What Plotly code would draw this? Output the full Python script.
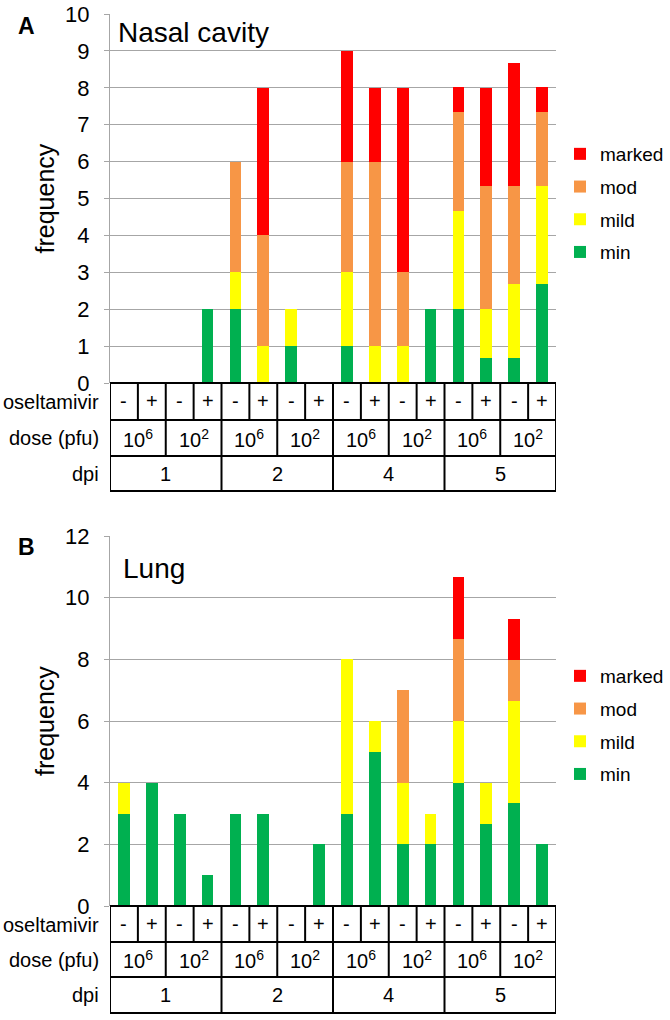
import plotly.graph_objects as go

# ---------------- data ----------------
oseltamivir = ["-", "+", "-", "+", "-", "+", "-", "+", "-", "+", "-", "+", "-", "+", "-", "+"]
dose_labels = ["10<sup>6</sup>", "10<sup>2</sup>", "10<sup>6</sup>", "10<sup>2</sup>",
               "10<sup>6</sup>", "10<sup>2</sup>", "10<sup>6</sup>", "10<sup>2</sup>"]
dpi_labels = ["1", "2", "4", "5"]
severity = ["min", "mild", "mod", "marked"]
colors = {"min": "#00B050", "mild": "#FFFF00", "mod": "#F79646", "marked": "#FF0000"}

nasal_min    = [0, 0, 0, 2, 2, 0, 1, 0, 1, 0, 0, 2, 2,    0.67, 0.67, 2.67]
nasal_mild   = [0, 0, 0, 0, 1, 1, 1, 0, 2, 1, 1, 0, 2.67, 1.33, 2,    2.67]
nasal_mod    = [0, 0, 0, 0, 3, 3, 0, 0, 3, 5, 2, 0, 2.67, 3.33, 2.67, 2]
nasal_marked = [0, 0, 0, 0, 0, 4, 0, 0, 3, 2, 5, 0, 0.67, 2.67, 3.33, 0.67]

lung_min    = [3, 4, 3, 1, 3, 3, 0, 2, 3, 5, 2, 2, 4,    2.67, 3.33, 2]
lung_mild   = [1, 0, 0, 0, 0, 0, 0, 0, 5, 1, 2, 1, 2,    1.33, 3.33, 0]
lung_mod    = [0, 0, 0, 0, 0, 0, 0, 0, 0, 0, 3, 0, 2.67, 0,    1.33, 0]
lung_marked = [0, 0, 0, 0, 0, 0, 0, 0, 0, 0, 0, 0, 2,    0,    1.33, 0]

panels = [
    {"letter": "A", "title": "Nasal cavity", "ymax": 10, "dtick": 1,
     "values": {"min": nasal_min, "mild": nasal_mild, "mod": nasal_mod, "marked": nasal_marked}},
    {"letter": "B", "title": "Lung", "ymax": 12, "dtick": 2,
     "values": {"min": lung_min, "mild": lung_mild, "mod": lung_mod, "marked": lung_marked}},
]

# ---------------- layout geometry (pixels) ----------------
W, H = 670, 1020
FONT = "Arial, Liberation Sans, sans-serif"
def px(x): return x / W
def py(y): return 1 - y / H

plot_x0, plot_x1 = 110, 556
geo = [
    {"top": 14, "bottom": 383, "rows": [383, 420, 456, 491], "legend_top": 135,
     "letter_y": 26, "title_y": 33},
    {"top": 536, "bottom": 906, "rows": [906, 942, 977, 1013], "legend_top": 657,
     "letter_y": 547, "title_y": 568},
]

ncol = len(oseltamivir)
xs = list(range(ncol))

fig = go.Figure()
shapes = []
annotations = []

for i, (p, g) in enumerate(zip(panels, geo)):
    n = "" if i == 0 else str(i + 1)
    xa, ya = "x" + n, "y" + n
    leg = "legend" if i == 0 else "legend2"
    for s in severity:
        fig.add_trace(go.Bar(
            x=xs, y=p["values"][s], name=s, marker=dict(color=colors[s], line=dict(width=0)),
            xaxis=xa, yaxis=ya, legend=leg, legendgroup=s + n,
            legendrank={"marked": 1, "mod": 2, "mild": 3, "min": 4}[s],
        ))
    fig.layout["xaxis" + n] = dict(
        domain=[px(plot_x0), px(plot_x1)], range=[-0.5, ncol - 0.5], anchor=ya,
        showticklabels=False, showgrid=False, zeroline=False, showline=False, ticks="",
        fixedrange=True, automargin=False)
    fig.layout["yaxis" + n] = dict(
        domain=[py(g["bottom"]), py(g["top"])], range=[0, p["ymax"]], dtick=p["dtick"], anchor=xa,
        showgrid=True, gridcolor="#A6A6A6", gridwidth=1.3, zeroline=False,
        showline=True, linecolor="#A6A6A6", linewidth=1.3,
        ticks="outside", ticklen=5, tickcolor="#A6A6A6", tickwidth=1.3,
        ticklabelstandoff=10, automargin=False, fixedrange=True,
        tickfont=dict(family=FONT, size=22, color="black"))
    fig.layout[leg] = dict(
        x=px(560), y=py(g["legend_top"]), xanchor="left", yanchor="top",
        font=dict(family=FONT, size=19, color="black"), bgcolor="rgba(0,0,0,0)",
        tracegroupgap=5, itemwidth=30)

    # panel letter, title, y title
    annotations.append(dict(text="<b>%s</b>" % p["letter"], x=px(26), y=py(g["letter_y"]),
                            xref="paper", yref="paper", xanchor="center", yanchor="middle",
                            showarrow=False, font=dict(family=FONT, size=23, color="black")))
    annotations.append(dict(text=p["title"], x=px(116 if i == 0 else 121), y=py(g["title_y"]),
                            xref="paper", yref="paper", xanchor="left", yanchor="middle",
                            showarrow=False, font=dict(family=FONT, size=28, color="black")))
    annotations.append(dict(text="frequency", x=px(45), y=py((g["top"] + g["bottom"]) / 2),
                            xref="paper", yref="paper", xanchor="center", yanchor="middle",
                            textangle=-90, showarrow=False,
                            font=dict(family=FONT, size=25, color="black")))

    # table
    r = g["rows"]
    line = dict(color="black", width=2)
    for yy in r:
        shapes.append(dict(type="line", xref=xa, yref="paper", x0=-0.5, x1=ncol - 0.5,
                           y0=py(yy), y1=py(yy), line=line))
    for k in range(ncol + 1):
        shapes.append(dict(type="line", xref=xa, yref="paper", x0=k - 0.5, x1=k - 0.5,
                           y0=py(r[0]), y1=py(r[1]), line=line))
    for k in range(0, ncol + 1, 2):
        shapes.append(dict(type="line", xref=xa, yref="paper", x0=k - 0.5, x1=k - 0.5,
                           y0=py(r[1]), y1=py(r[2]), line=line))
    for k in range(0, ncol + 1, 4):
        shapes.append(dict(type="line", xref=xa, yref="paper", x0=k - 0.5, x1=k - 0.5,
                           y0=py(r[2]), y1=py(r[3]), line=line))
    tfont = dict(family=FONT, size=20, color="black")
    for k, t in enumerate(oseltamivir):
        annotations.append(dict(text=t, x=k, y=py((r[0] + r[1]) / 2), xref=xa, yref="paper",
                                xanchor="center", yanchor="middle", showarrow=False, font=tfont))
    for k, t in enumerate(dose_labels):
        annotations.append(dict(text=t, x=2 * k + 0.5, y=py((r[1] + r[2]) / 2), xref=xa,
                                yref="paper", xanchor="center", yanchor="middle",
                                showarrow=False, font=tfont))
    for k, t in enumerate(dpi_labels):
        annotations.append(dict(text=t, x=4 * k + 1.5, y=py((r[2] + r[3]) / 2), xref=xa,
                                yref="paper", xanchor="center", yanchor="middle",
                                showarrow=False, font=tfont))
    for t, (a, b) in zip(["oseltamivir", "dose (pfu)", "dpi"],
                         [(r[0], r[1] + 2), (r[1], r[2]), (r[2], r[3])]):
        annotations.append(dict(text=t, x=px(101), y=py((a + b) / 2), xref="paper", yref="paper",
                                xanchor="right", yanchor="middle", showarrow=False, font=tfont))

fig.update_layout(
    width=W, height=H, margin=dict(l=0, r=0, t=0, b=0, autoexpand=False),
    paper_bgcolor="white", plot_bgcolor="white",
    barmode="stack", bargap=0.58,
    shapes=shapes, annotations=annotations,
    font=dict(family=FONT, color="black"),
)

fig.write_html("out.html", config={"displayModeBar": False},
               post_script="document.body.style.margin='0px';")
